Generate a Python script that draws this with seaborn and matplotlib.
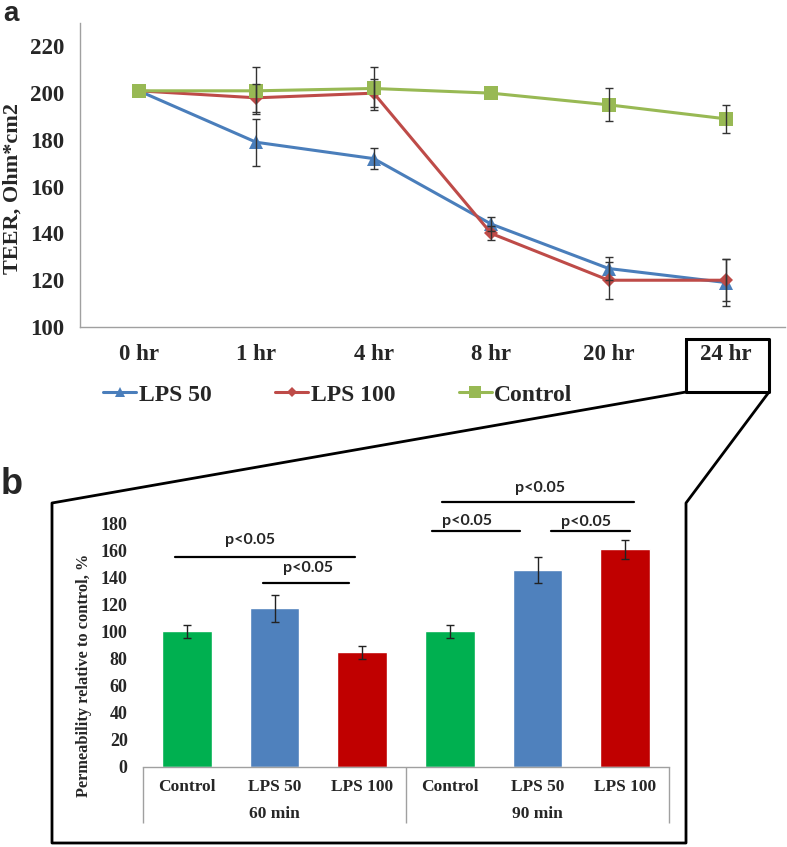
import numpy as np
import pandas as pd
import seaborn as sns
import matplotlib.pyplot as plt
from matplotlib.lines import Line2D

# panel a: TEER over time
times = ['0 hr', '1 hr', '4 hr', '8 hr', '20 hr', '24 hr']
series_names = ['LPS 50', 'LPS 100', 'Control']
lps50 = [201, 179, 172, 144, 125, 119]
lps50_err = [0, 10, 4.5, 3, 5, 10]
lps100 = [201, 198, 200, 140, 120, 120]
lps100_err = [0, 6, 6, 3, 8, 9]
control = [201, 201, 202, 200, 195, 189]
control_err = [0, 10, 9, 0, 7, 6]

# panel b: permeability relative to control
treatments = ['Control', 'LPS 50', 'LPS 100']
timepoints = ['60 min', '90 min']
perm_60 = [100, 117, 84.5]
perm_60_err = [5, 10, 5]
perm_90 = [100, 145.5, 160.8]
perm_90_err = [5, 9.3, 7.2]

# significance bars: x0, x1, line y, text x, text y
sig_bars = [(-0.14, 1.92, 155, 0.72, 168),
            (0.87, 1.85, 136, 1.38, 147),
            (2.91, 5.10, 196, 4.03, 206),
            (2.80, 3.80, 174, 3.20, 182),
            (4.15, 5.06, 174, 4.55, 181)]

line_colors = {'LPS 50': '#4A7EBB', 'LPS 100': '#BE4B48', 'Control': '#98B954'}
line_markers = {'LPS 50': '^', 'LPS 100': 'D', 'Control': 's'}
marker_sizes = {'LPS 50': 9.5, 'LPS 100': 7, 'Control': 10.5}
bar_colors = ['#00B050', '#4F81BD', '#C00000']

sns.set_style('white')
plt.rcParams['font.family'] = ['Liberation Serif', 'DejaVu Serif']
plt.rcParams['font.weight'] = 'bold'

W, H = 787, 847
fig = plt.figure(figsize=(W / 100, H / 100), dpi=100)


def fx(px):
    return px / W


def fy(py):
    return 1 - py / H


# ---------- panel a ----------
ax_a = fig.add_axes([fx(80), fy(327), fx(785) - fx(80), fy(23) - fy(327)])

df_a = pd.DataFrame({
    'pos': list(range(len(times))) * 3,
    'teer': lps50 + lps100 + control,
    'err': lps50_err + lps100_err + control_err,
    'series': np.repeat(series_names, len(times)),
})

sns.lineplot(data=df_a, x='pos', y='teer', hue='series', style='series',
             hue_order=series_names, style_order=series_names,
             palette=line_colors, markers=line_markers, dashes=False,
             linewidth=2.2, markeredgewidth=0, errorbar=None, sort=False,
             legend=False, ax=ax_a)
for line, name in zip(ax_a.lines, series_names):
    line.set_markersize(marker_sizes[name])

for name in series_names:
    sub = df_a[(df_a['series'] == name) & (df_a['err'] > 0)]
    ax_a.errorbar(sub['pos'], sub['teer'], yerr=sub['err'], fmt='none',
                  ecolor='#333333', elinewidth=1, capsize=3, capthick=1, zorder=4)

ax_a.set_xlim(-0.5, 5.5)
ax_a.set_ylim(100, 230)
ax_a.set_yticks(range(100, 221, 20))
ax_a.set_xticks(range(len(times)))
ax_a.set_xticklabels(times)
ax_a.set_xticks(np.arange(0.5, 5, 1), minor=True)
ax_a.tick_params(axis='y', length=0, pad=11, labelsize=16.5)
ax_a.tick_params(axis='x', which='major', length=0, pad=12, labelsize=16.5)
ax_a.tick_params(axis='x', which='minor', length=6, width=1, color='#A0A0A0', direction='out')
ax_a.set_xlabel('')
ax_a.set_ylabel('TEER, Ohm*cm2', fontsize=16, fontweight='bold')
ax_a.yaxis.set_label_coords(-0.082, 0.454)
for s in ['top', 'right']:
    ax_a.spines[s].set_visible(False)
for s in ['left', 'bottom']:
    ax_a.spines[s].set_color('#A0A0A0')
    ax_a.spines[s].set_linewidth(1)

handles = [Line2D([], [], color=line_colors[n], marker=line_markers[n],
                  ms=marker_sizes[n] * 0.8, lw=2.2, mew=0) for n in series_names]
fig.legend(handles, series_names, loc='center', bbox_to_anchor=(fx(338), fy(395)),
           ncol=3, frameon=False, handlelength=1.4, handletextpad=0.1,
           columnspacing=2.7, prop=dict(family='Liberation Serif', weight='bold', size=17))

# ---------- panel b ----------
ax_b = fig.add_axes([fx(143), fy(766.7), fx(669) - fx(143), fy(523.3) - fy(766.7)])

df_b = pd.DataFrame({
    'key': [f'{t} {g}' for t in timepoints for g in treatments],
    'value': perm_60 + perm_90,
    'err': perm_60_err + perm_90_err,
})
sns.barplot(data=df_b, x='key', y='value', hue='key', palette=bar_colors * 2,
            width=0.57, saturation=1, errorbar=None, legend=False, ax=ax_b)
ax_b.errorbar(range(len(df_b)), df_b['value'], yerr=df_b['err'], fmt='none',
              ecolor='#222222', elinewidth=1, capsize=3, capthick=1, zorder=4)

ax_b.set_xlim(-0.5, 5.5)
ax_b.set_ylim(0, 180)
ax_b.set_yticks(range(0, 181, 20))
ax_b.set_xticks(range(len(df_b)))
ax_b.set_xticklabels(treatments * 2)
ax_b.tick_params(axis='y', length=0, pad=11, labelsize=13)
ax_b.tick_params(axis='x', length=0, pad=9, labelsize=12.5)
ax_b.set_xlabel('')
ax_b.set_ylabel('Permeability relative to control, %', fontsize=11.8, fontweight='bold')
ax_b.yaxis.set_label_coords(-0.097, 0.377)
for s in ['top', 'right', 'left']:
    ax_b.spines[s].set_visible(False)
ax_b.spines['bottom'].set_color('#A0A0A0')
ax_b.spines['bottom'].set_linewidth(1)

grp = ax_b.secondary_xaxis('bottom')
grp.set_xticks([1, 4])
grp.set_xticklabels(timepoints)
grp.tick_params(length=0, pad=28, labelsize=12.5)
grp.spines['bottom'].set_visible(False)

sep = ax_b.secondary_xaxis('bottom')
sep.set_xticks([-0.5, 2.5, 5.5])
sep.set_xticklabels(['', '', ''])
sep.tick_params(length=40, width=1, color='#A0A0A0', direction='out')
sep.spines['bottom'].set_visible(False)

for x0, x1, y, tx, ty in sig_bars:
    ax_b.plot([x0, x1], [y, y], color='black', lw=1.6, clip_on=False)
    ax_b.text(tx, ty, 'p<0.05', ha='center', va='center', fontsize=11.5,
              family='Lato', fontweight='bold', clip_on=False)

# zoom box and connectors
box = Line2D([fx(686), fx(769), fx(769), fx(686), fx(686)],
             [fy(339), fy(339), fy(392), fy(392), fy(339)],
             transform=fig.transFigure, color='black', lw=2.2)
outline = Line2D([fx(686), fx(52), fx(52), fx(686), fx(686), fx(769)],
                 [fy(392), fy(503), fy(843), fy(843), fy(503), fy(392)],
                 transform=fig.transFigure, color='black', lw=2)
fig.add_artist(box)
fig.add_artist(outline)

fig.text(fx(11), fy(1), 'a', fontsize=20, family='Liberation Sans', fontweight='bold',
         ha='center', va='top')
fig.text(fx(12), fy(484), 'b', fontsize=26, family='Liberation Sans', fontweight='bold',
         ha='center', va='center')

fig.savefig('out.png', dpi=100)
